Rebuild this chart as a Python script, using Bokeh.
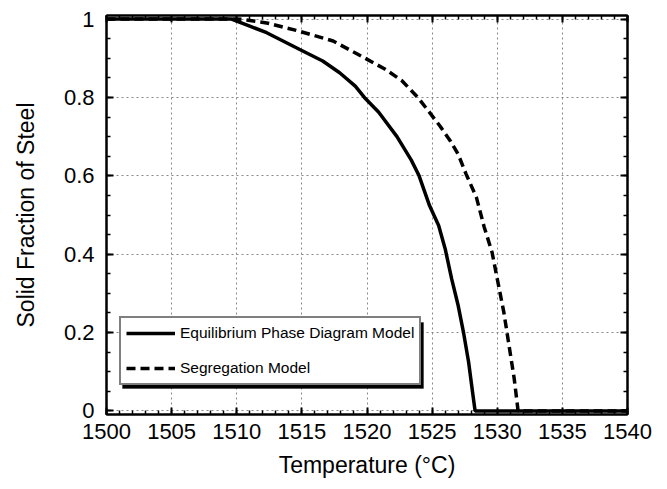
from bokeh.plotting import figure
from bokeh.models import (LinearAxis, FixedTicker, Legend, LegendItem, Range1d, BoxAnnotation,
                          CustomLabelingPolicy)
from bokeh.embed import file_html
from bokeh.resources import INLINE

# ---- data ----
equilibrium_T = [1500, 1509.6, 1511.0, 1512.3, 1514.8, 1516.6, 1517.9, 1519.1, 1519.8,
                 1520.9, 1522.3, 1523.4, 1524.0, 1524.8, 1525.5, 1526.0, 1526.5, 1527.0,
                 1527.4, 1527.8, 1528.1, 1528.3, 1540]
equilibrium_f = [1, 1, 0.982, 0.965, 0.923, 0.893, 0.863, 0.829, 0.80,
                 0.762, 0.70, 0.64, 0.60, 0.524, 0.473, 0.414, 0.337, 0.269,
                 0.202, 0.125, 0.049, 0, 0]

segregation_T = [1500, 1510.0, 1510.5, 1512.3, 1514.8, 1517.4, 1519.8, 1521.4, 1522.7,
                 1523.9, 1524.7, 1525.6, 1526.4, 1527.0, 1527.6, 1528.4, 1529.0, 1529.6,
                 1530.0, 1530.5, 1530.9, 1531.3, 1531.6, 1540]
segregation_f = [1, 1, 0.999, 0.99, 0.969, 0.944, 0.901, 0.872, 0.842,
                 0.80, 0.766, 0.727, 0.689, 0.655, 0.605, 0.545, 0.469, 0.405,
                 0.337, 0.253, 0.168, 0.083, 0, 0]

x_ticks = [1500, 1505, 1510, 1515, 1520, 1525, 1530, 1535, 1540]
x_minor = [v for v in range(1500, 1541)]
y_ticks = [0, 0.2, 0.4, 0.6, 0.8, 1.0]
y_tick_labels = ["0", "0.2", "0.4", "0.6", "0.8", "1"]
y_minor = [round(i * 0.05, 2) for i in range(0, 21)]

series_names = ["Equilibrium Phase Diagram Model", "Segregation Model"]

FONT = "Liberation Sans"

p = figure(width=667, height=489, output_backend="svg", toolbar_location=None,
           x_range=Range1d(1500, 1540), y_range=Range1d(-0.009, 1.009),
           min_border_left=106, min_border_right=40, min_border_top=15,
           min_border_bottom=75, x_axis_label="Temperature (°C)",
           y_axis_label="Solid Fraction of Steel")
p.background_fill_color = "white"
p.border_fill_color = "white"
p.outline_line_color = "black"
p.outline_line_width = 2

xt = FixedTicker(ticks=x_ticks, minor_ticks=x_minor)
yt = FixedTicker(ticks=y_ticks, minor_ticks=y_minor)

no_labels = CustomLabelingPolicy(code="""
    const all = [...indices]
    for (const i of all) indices.unset(i)
    return indices
""")

def style_axis(ax, ticker, labels=True):
    ax.ticker = ticker
    ax.axis_line_color = "black"
    ax.axis_line_width = 2
    ax.major_tick_in = 7
    ax.major_tick_out = 0
    ax.minor_tick_in = 4
    ax.minor_tick_out = 0
    ax.major_tick_line_width = 2
    ax.minor_tick_line_width = 1.5
    ax.major_tick_line_color = "black"
    ax.minor_tick_line_color = "black"
    if labels:
        ax.major_label_text_font = FONT
        ax.major_label_text_font_size = "22px"
        ax.major_label_text_color = "black"
        ax.axis_label_text_font = FONT
        ax.axis_label_text_font_size = "23px"
        ax.axis_label_text_font_style = "normal"
        ax.axis_label_text_color = "black"
    else:
        ax.major_label_policy = no_labels
        ax.major_label_standoff = 0

xa = p.xaxis[0]
ya = p.yaxis[0]
style_axis(xa, xt)
style_axis(ya, yt)
ya.major_label_overrides = dict(zip(y_ticks, y_tick_labels))
xa.major_label_standoff = 9
ya.major_label_standoff = 12
xa.axis_label_standoff = 10
ya.axis_label_standoff = 22

top = LinearAxis()
right = LinearAxis()
style_axis(top, xt, labels=False)
style_axis(right, yt, labels=False)
p.add_layout(top, "above")
p.add_layout(right, "right")

for g in [p.xgrid[0], p.ygrid[0]]:
    g.grid_line_color = "#888888"
    g.grid_line_dash = "2 3"
    g.grid_line_width = 1
p.xgrid[0].ticker = xt
p.ygrid[0].ticker = yt

r1 = p.line(equilibrium_T, equilibrium_f, line_color="black", line_width=3.5)
r2 = p.line(segregation_T, segregation_f, line_color="black", line_width=3.5,
            line_dash="9 5")

# drop shadow of the legend box (screen units, relative to the plot frame)
shadow = BoxAnnotation(left=16, right=317, bottom=26, top=92,
                       left_units="screen", right_units="screen",
                       bottom_units="screen", top_units="screen",
                       fill_color="black", fill_alpha=1.0, line_color="black")
p.add_layout(shadow)

lg = Legend(items=[LegendItem(label=series_names[0], renderers=[r1]),
                   LegendItem(label=series_names[1], renderers=[r2])],
            location=(13, 29))
lg.margin = 0
lg.padding = 5
lg.spacing = 15
lg.glyph_width = 49
lg.glyph_height = 20
lg.label_height = 20
lg.label_width = 232
lg.label_standoff = 5
lg.label_text_font = FONT
lg.label_text_font_size = "15.5px"
lg.label_text_color = "black"
lg.border_line_color = "black"
lg.border_line_width = 2
lg.background_fill_color = "white"
lg.background_fill_alpha = 1.0
p.add_layout(lg)

open("out.html", "w").write(file_html(p, INLINE))
